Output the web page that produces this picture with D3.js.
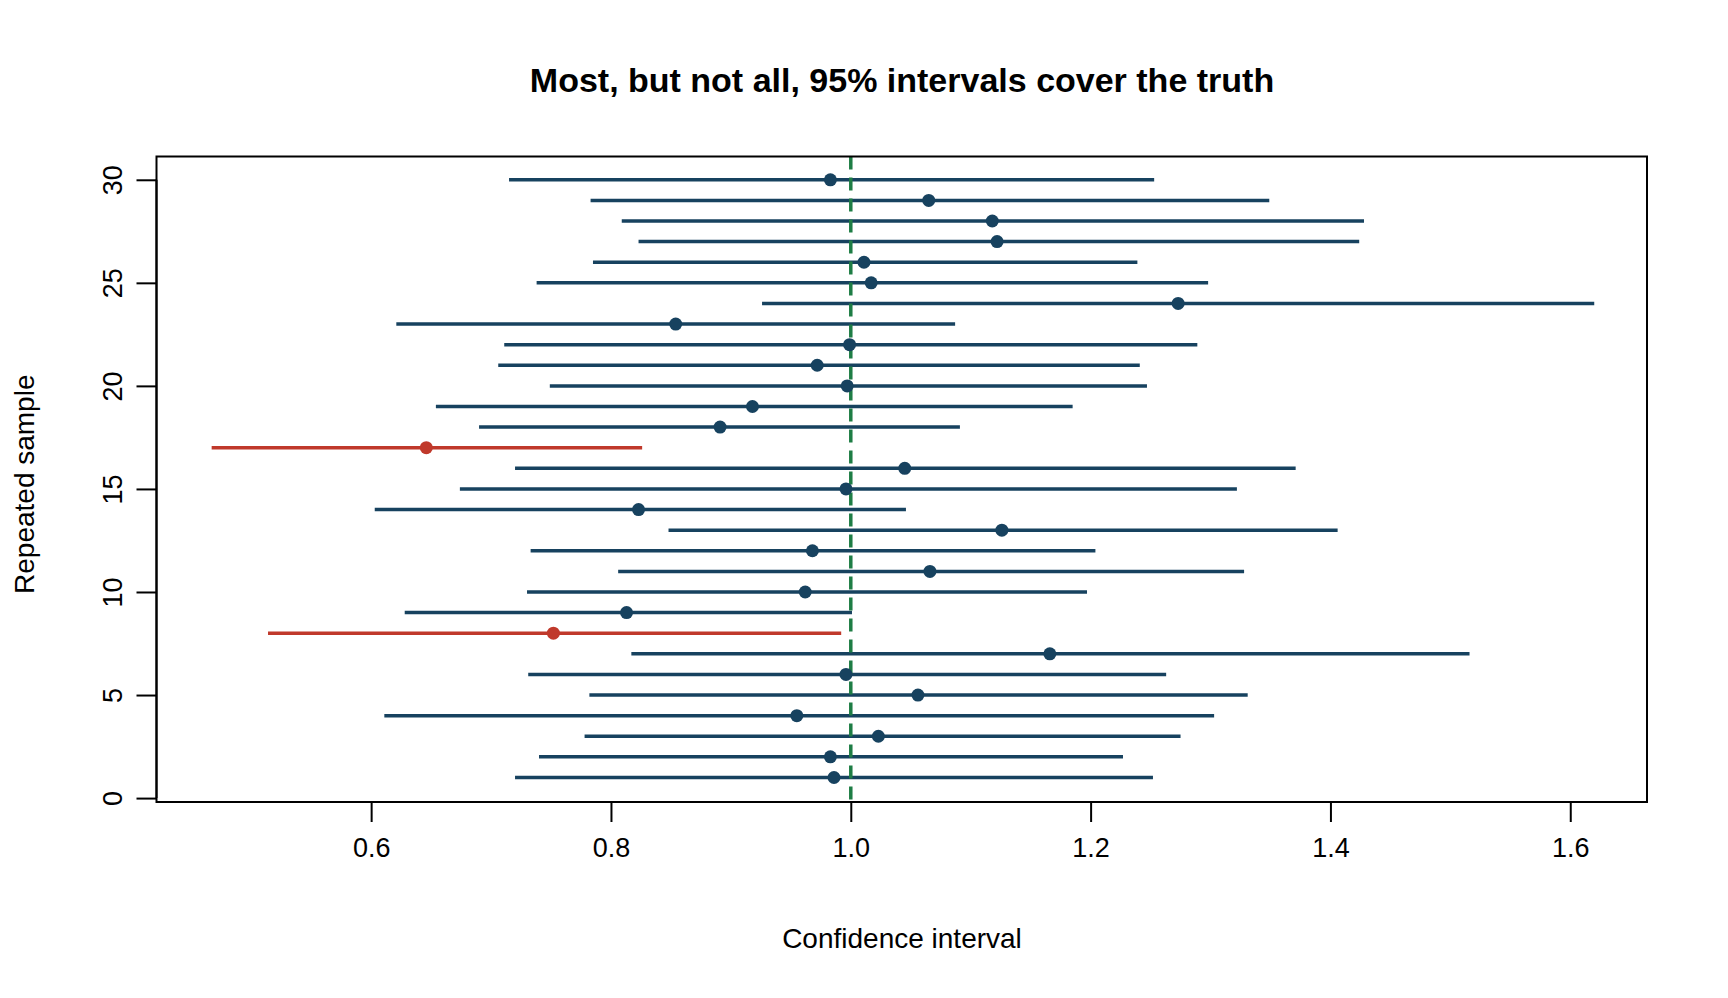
<!doctype html>
<html>
<head>
<meta charset="utf-8"/>
<script src="https://d3js.org/d3.v7.min.js"></script>
<style>body{margin:0;background:#fff} text{font-family:Arial,"Liberation Sans",sans-serif}</style>
</head>
<body>
<svg id="svg1"></svg>
<script>
const width = 1728, height = 998

// one row per repeated sample: lower bound, estimate, upper bound
const samples = d3.range(1, 31)
const lower = [0.720,0.740,0.778,0.611,0.782,0.731,0.817,0.514,0.628,0.730,0.806,0.733,0.848,0.603,0.674,0.720,0.467,0.690,0.654,0.749,0.706,0.711,0.621,0.926,0.738,0.785,0.823,0.809,0.783,0.715]
const estimate = [0.986,0.983,1.023,0.955,1.056,0.996,1.166,0.752,0.813,0.962,1.066,0.968,1.126,0.823,0.996,1.045,0.646,0.891,0.918,0.997,0.972,0.999,0.854,1.273,1.017,1.011,1.122,1.118,1.065,0.983]
const upper = [1.252,1.227,1.275,1.303,1.331,1.263,1.516,0.992,1.001,1.197,1.328,1.204,1.406,1.046,1.322,1.371,0.826,1.091,1.185,1.247,1.241,1.289,1.087,1.620,1.298,1.239,1.424,1.428,1.349,1.253]
const truth = 1.0
const xTicks = [0.6, 0.8, 1.0, 1.2, 1.4, 1.6]
const yTicks = [0, 5, 10, 15, 20, 25, 30]

const box = {l: 156.5, r: 1647, t: 156.5, b: 802}
const x = d3.scaleLinear().domain([0.421, 1.664]).range([box.l, box.r])
const y = d3.scaleLinear().domain([-0.19, 31.13]).range([box.b, box.t])

const svg = d3.select('#svg1').attr('width', width).attr('height', height)

svg.append('text').attr('x', 902).attr('y', 92).attr('text-anchor', 'middle')
    .style('font-size', '34px').style('font-weight', 'bold').text('Most, but not all, 95% intervals cover the truth')

const rows = samples.map((s, i) => ({s, lo: lower[i], est: estimate[i], hi: upper[i]}))
const col = d => (d.lo > truth || d.hi < truth) ? '#c0392b' : '#17425f'

svg.selectAll('line.ci').data(rows).join('line').attr('class', 'ci')
    .attr('x1', d => x(d.lo)).attr('x2', d => x(d.hi))
    .attr('y1', d => y(d.s)).attr('y2', d => y(d.s))
    .style('stroke', col).style('stroke-width', 3.5)

svg.append('line').attr('x1', x(truth)).attr('x2', x(truth)).attr('y1', box.t).attr('y2', box.b)
    .style('stroke', '#1e7d45').style('stroke-width', 3.5).style('stroke-dasharray', '13,8')

svg.selectAll('circle').data(rows).join('circle')
    .attr('cx', d => x(d.est)).attr('cy', d => y(d.s)).attr('r', 6.5).style('fill', col)

svg.append('rect').attr('x', box.l).attr('y', box.t).attr('width', box.r - box.l).attr('height', box.b - box.t)
    .style('fill', 'none').style('stroke', 'black').style('stroke-width', 2)

const xa = svg.append('g').attr('transform', `translate(0,${box.b})`)
    .call(d3.axisBottom(x).tickValues(xTicks).tickFormat(d3.format('.1f')).tickSize(20).tickPadding(16))
xa.select('.domain').attr('d', `M${x(0.6)},0H${x(1.6)}`).style('stroke-width', 2)
xa.selectAll('.tick line').style('stroke-width', 2)
xa.selectAll('text').style('font-size', '27px').attr('font-family', null)

const ya = svg.append('g').attr('transform', `translate(${box.l},0)`)
    .call(d3.axisLeft(y).tickValues(yTicks).tickSize(20).tickPadding(14))
ya.select('.domain').attr('d', `M0,${y(0)}V${y(30)}`).style('stroke-width', 2)
ya.selectAll('.tick line').style('stroke-width', 2)
ya.selectAll('text').style('font-size', '27px').attr('font-family', null)
    .attr('transform', 'rotate(-90)').attr('x', 0).attr('y', -44).attr('dy', '0.35em').style('text-anchor', 'middle')

svg.append('text').attr('x', 902).attr('y', 948).attr('text-anchor', 'middle')
    .style('font-size', '28px').text('Confidence interval')
svg.append('text').attr('transform', `translate(34,${(box.t + box.b) / 2 + 5}) rotate(-90)`)
    .attr('text-anchor', 'middle').style('font-size', '28px').text('Repeated sample')
</script>
</body>
</html>
